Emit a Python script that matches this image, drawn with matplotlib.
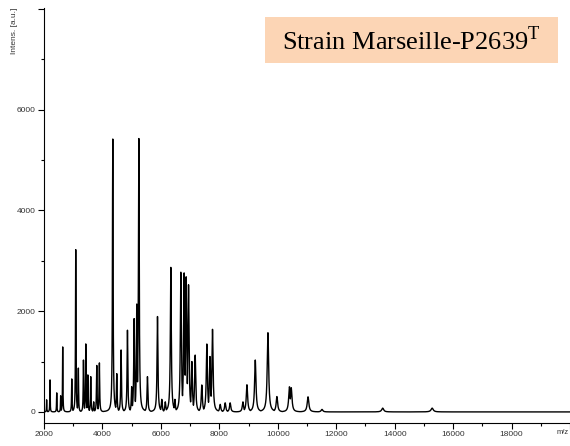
"""MALDI-TOF spektrum kmene Marseille-P2639 (rekonstrukce z obrázku)."""

import numpy as np
import matplotlib.pyplot as plt
from matplotlib.patches import Rectangle
from matplotlib.ticker import MultipleLocator, FuncFormatter

# polohy píků (m/z) a jejich intenzity [a.u.]
peak_mz = [
    2090, 2205, 2435, 2570, 2640, 2950, 3085, 3175, 3350, 3430,
    3500, 3600, 3700, 3805, 3895, 4353, 4490, 4638, 4855, 5000,
    5083, 5175, 5245, 5540, 5883, 6030, 6150, 6340, 6480, 6683,
    6796, 6865, 6945, 7060, 7173, 7400, 7573, 7680, 7766, 8030,
    8200, 8370, 8807, 8945, 9230, 9663, 9970, 10400, 10460, 11035,
    11513, 13590, 15283,
]
peak_int = [
    240, 650, 385, 320, 1290, 655, 3260, 880, 1030, 1350,
    735, 700, 200, 930, 980, 5450, 760, 1230, 1630, 500,
    1860, 2150, 5450, 700, 1900, 250, 200, 2870, 250, 2780,
    2760, 2690, 2530, 1000, 1130, 535, 1350, 1100, 1640, 150,
    180, 180, 200, 540, 1030, 1575, 305, 500, 480, 300,
    50, 75, 75,
]

# popisky
strain_label = r"Strain Marseille-P2639$^{\mathrm{T}}$"
y_label = "Intens. [a.u.]"
x_label = "m/z"

# profil spektra: obálka lorentzovských píků (vrcholy = odečtené intenzity)
mz = np.arange(2000, 20001, 2.0)
intensity = np.zeros_like(mz)
for m, h in zip(peak_mz, peak_int):
    g = 0.003 * m
    intensity = np.maximum(intensity, h * g ** 2 / ((mz - m) ** 2 + g ** 2))

plt.rcParams["font.family"] = ["Liberation Sans", "DejaVu Sans"]
plt.rcParams["mathtext.fontset"] = "custom"
plt.rcParams["mathtext.rm"] = "Liberation Serif"

fig = plt.figure(figsize=(5.7, 4.46), dpi=100)
ax = fig.add_axes([44 / 570, 23 / 446, 1 - 44 / 570, 1 - 31 / 446])

ax.plot(mz, intensity, color="black", linewidth=1.0)

ax.set_xlim(2000, 20000)
ax.set_ylim(-220, 8020)

ax.xaxis.set_major_locator(MultipleLocator(2000))
ax.xaxis.set_minor_locator(MultipleLocator(1000))
ax.yaxis.set_major_locator(MultipleLocator(2000))
ax.yaxis.set_minor_locator(MultipleLocator(1000))

# okrajové hodnoty (8000, 20000) se nepopisují
ax.xaxis.set_major_formatter(FuncFormatter(lambda v, p: "" if v >= 20000 else f"{v:.0f}"))
ax.yaxis.set_major_formatter(FuncFormatter(lambda v, p: "" if v >= 8000 else f"{v:.0f}"))

ax.spines["top"].set_visible(False)
ax.spines["right"].set_visible(False)
ax.tick_params(which="major", length=4, width=0.8, labelsize=6,
               labelcolor="#333333", pad=2)
ax.tick_params(which="minor", length=2, width=0.8)

# popisek osy y nahoře vlevo, svisle
fig.text(15 / 570, 1 - 8 / 446, y_label, rotation=90, ha="center", va="top",
         fontsize=6, color="#333333")
# popisek osy x vpravo dole
fig.text(1 - 1 / 570, 1 - 433 / 446, x_label, ha="right", va="center",
         fontsize=5.5, color="#333333")

# rámeček s názvem kmene
fig.add_artist(Rectangle((265 / 570, 1 - 63 / 446), 293 / 570, 46 / 446,
                         transform=fig.transFigure, facecolor="#fcd5b5",
                         edgecolor="none"))
fig.text(411 / 570, 1 - 41 / 446, strain_label, ha="center", va="center",
         fontsize=19, family="Liberation Serif", color="black")

plt.savefig("out.png", dpi=100)
